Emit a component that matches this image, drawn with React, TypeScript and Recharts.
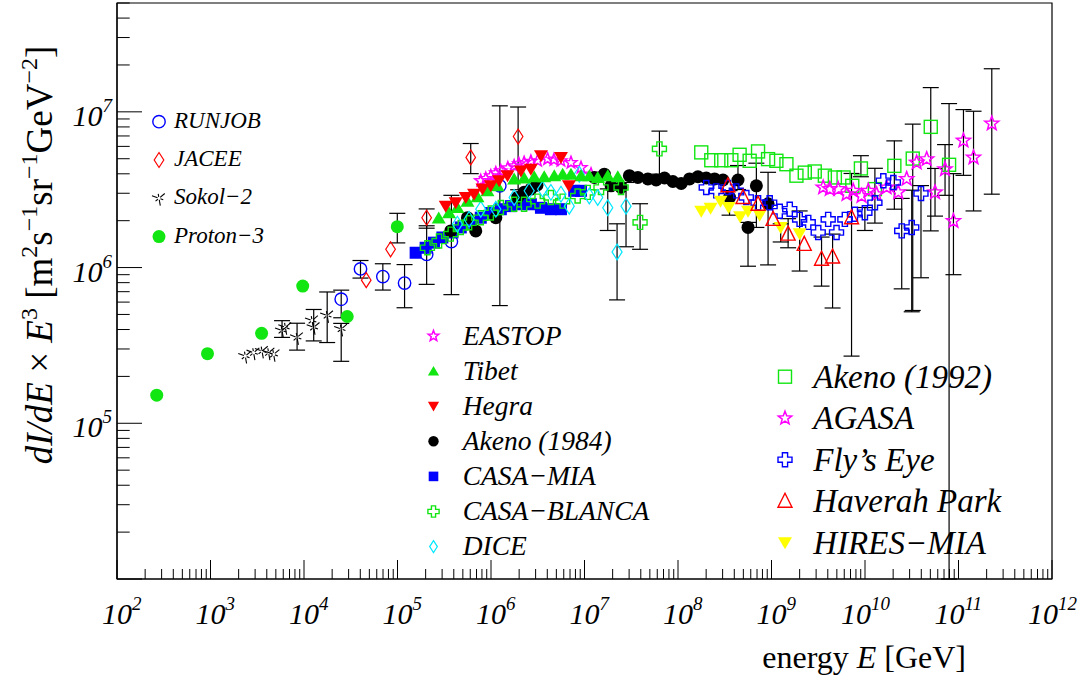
import React from 'react'
import { ScatterChart, Scatter, XAxis, YAxis, ErrorBar, ReferenceArea } from 'recharts'

// [energy GeV, dI/dE*E^3, errLow?, errHigh?]
type Pt = [number, number, number?, number?]

const runjob: Pt[] = [
  [2.5e4, 6.26e5, 1.5e5, 0.9e5], [4.02e4, 9.8e5, 1.24e5, 1.3e5], [6.97e4, 8.75e5, 1.58e5, 1.83e5],
  [1.19e5, 7.95e5, 2.43e5, 2.5e5], [2.05e5, 1.215e6, 4.35e5, 6.4e5], [3.77e5, 1.47e6, 8.0e5, 1.44e6],
  [1.243e6, 3.35e6, 2.78e6, 7.58e6],
]
const jacee: Pt[] = [
  [4.63e4, 8.3e5], [8.43e4, 1.31e6], [2.05e5, 2.09e6, 0.3e6, 0.29e6],
  [6.07e5, 5.1e6, 1.09e6, 1.16e6], [1.95e6, 6.94e6, 3.78e6, 3.8e6],
]
const sokol2: Pt[] = [
  [2355, 2.7e5], [2890, 2.84e5], [3555, 2.91e5], [4183, 2.84e5], [4735, 2.77e5],
  [5824, 3.94e5, 0.38e5, 0.62e5], [6319, 4.13e5], [8433, 3.56e5, 0.61e5, 0.83e5],
  [1.22e4, 4.57e5], [1.27e4, 4.13e5, 0.75e5, 1.25e5], [1.77e4, 4.92e5, 1.62e5, 2.05e5],
  [2.5e4, 4.03e5, 1.53e5, 0.35e5],
]
const proton3: Pt[] = [
  [266, 1.515e5], [929, 2.8e5], [3520, 3.78e5], [9690, 7.6e5], [2.9e4, 4.85e5],
  [9.95e4, 1.83e6, 0.39e6, 0.4e6],
]
const eastop: Pt[] = [
  [7.77e5, 3.61e6], [8.79e5, 3.73e6], [9.95e5, 3.88e6], [1.126e6, 4.05e6], [1.274e6, 4.17e6],
  [1.514e6, 4.36e6], [1.768e6, 4.49e6], [1.986e6, 4.64e6], [2.26e6, 4.72e6], [2.67e6, 4.81e6],
  [3.15e6, 4.85e6], [4.03e6, 4.97e6], [4.71e6, 4.92e6], [5.6e6, 4.85e6], [7.17e6, 4.72e6],
  [9.17e6, 4.38e6], [1.174e7, 3.98e6],
]
const tibet: Pt[] = [
  [2.76e5, 2.08e6], [3.56e5, 2.25e6], [4.37e5, 2.43e6], [5.6e5, 2.67e6], [7.17e5, 2.85e6],
  [9.17e5, 3.11e6], [1.174e6, 3.35e6], [1.768e6, 3.7e6], [2.26e6, 3.76e6], [2.9e6, 3.83e6],
  [3.71e6, 3.83e6], [4.75e6, 3.89e6], [5.84e6, 3.98e6], [7.17e6, 3.98e6], [9.17e6, 3.89e6],
  [1.126e7, 3.89e6], [1.385e7, 3.79e6], [1.773e7, 3.89e6], [2.27e7, 3.83e6],
]
const hegra: Pt[] = [
  [3.28e5, 2.48e6], [4.19e5, 2.61e6], [5.37e5, 2.82e6], [6.59e5, 2.96e6], [8.11e5, 3.19e6],
  [9.95e5, 3.35e6], [1.221e6, 3.61e6], [1.503e6, 3.89e6], [2.09e6, 4.17e6], [2.67e6, 4.28e6],
  [3.42e6, 5.22e6], [5.6e6, 5.09e6], [6.82e6, 3.35e6],
]
const akeno84: Pt[] = [
  [3.71e5, 1.72e6], [5.6e5, 2.09e6], [6.87e5, 1.72e6], [1.126e6, 2.09e6], [1.923e6, 2.82e6],
  [2.26e6, 3.04e6], [2.67e6, 3.19e6], [3.1e6, 3.38e6], [1.273e7, 3.79e6], [1.63e7, 3.98e6],
  [1.923e7, 3.35e6], [2.46e7, 3.27e6], [3.02e7, 3.89e6], [3.72e7, 3.79e6], [4.76e7, 3.71e6],
  [5.84e7, 3.65e6], [7.17e7, 3.76e6], [8.81e7, 3.57e6], [1.082e8, 3.47e6], [1.328e8, 3.71e6],
  [1.634e8, 3.83e6], [2.005e8, 3.76e6], [2.46e8, 3.71e6], [3.03e8, 3.65e6],
  [3.56e8, 2.82e6, 0.65e6, 0.3e6], [4.38e8, 3.65e6, 0.48e6, 0.87e6], [5.61e8, 1.81e6, 0.79e6, 0.14e6],
  [6.89e8, 3.35e6, 1.54e6, 1.33e6], [9.19e8, 2.57e6, 1.53e6, 1.52e6],
]
const casaMia: Pt[] = [
  [1.563e5, 1.245e6], [2.0e5, 1.34e6], [2.455e5, 1.445e6], [3.02e5, 1.56e6], [3.87e5, 1.68e6],
  [4.75e5, 1.81e6], [6.07e5, 1.94e6], [7.77e5, 2.09e6], [9.95e5, 2.24e6], [1.274e6, 2.37e6],
  [1.63e6, 2.48e6], [2.09e6, 2.55e6], [2.67e6, 2.55e6], [3.42e6, 2.42e6], [4.37e6, 2.37e6],
  [5.6e6, 2.37e6], [7.77e6, 3.11e6], [9.17e6, 3.11e6],
]
const casaBlanca: Pt[] = [
  [2.09e5, 1.34e6], [2.78e5, 1.48e6], [3.71e5, 1.64e6], [4.75e5, 1.81e6], [5.83e5, 1.94e6],
  [7.77e5, 2.09e6], [9.95e5, 2.24e6], [1.274e6, 2.43e6], [1.768e6, 2.55e6], [2.26e6, 2.55e6],
  [3.15e6, 2.67e6], [4.37e6, 2.82e6], [5.84e6, 2.67e6], [8.45e6, 2.88e6], [1.082e7, 3.04e6],
  [1.502e7, 3.27e6], [2.46e7, 3.27e6], [3.93e7, 1.95e6, 0.64e6, 0.62e6], [6.33e7, 5.78e6, 1.8e6, 1.74e6],
]
const dice: Pt[] = [
  [4.37e5, 1.9e6], [5.83e5, 2.04e6], [7.77e5, 2.37e6], [1.126e6, 2.37e6], [1.768e6, 2.82e6],
  [2.56e6, 3.11e6], [3.56e6, 3.19e6], [4.37e6, 3.04e6], [5.6e6, 2.96e6], [6.87e6, 2.48e6],
  [8.79e6, 3.98e6], [1.126e7, 2.88e6], [1.385e7, 2.82e6], [1.773e7, 2.42e6, 0.69e6, 0.78e6],
  [2.23e7, 1.26e6, 0.64e6, 0.65e6], [2.78e7, 2.48e6, 1.12e6, 1.04e6],
]
const akeno92: Pt[] = [
  [1.773e8, 5.49e6], [2.27e8, 4.89e6], [2.9e8, 4.89e6], [3.72e8, 4.89e6], [4.56e8, 5.3e6],
  [5.84e8, 4.85e6], [7.18e8, 5.57e6], [9.19e8, 4.97e6], [1.128e9, 4.85e6], [1.444e9, 4.61e6],
  [1.848e9, 3.89e6], [2.27e9, 4.07e6], [2.9e9, 4.14e6], [3.72e9, 3.89e6], [4.76e9, 3.79e6],
  [5.9e9, 3.79e6], [7.31e9, 3.35e6], [9.04e9, 4.33e6, 0.5e6, 0.9e6], [1.276e10, 3.19e6],
  [2.06e10, 4.5e6, 2.13e6, 2.01e6], [3.24e10, 5.01e6, 4.48e6, 3.33e6],
  [5.05e10, 8.01e6, 6.29e6, 6.3e6], [7.93e10, 4.57e6, 4.56e6, 6.73e6],
]
const agasa: Pt[] = [
  [3.57e9, 3.27e6], [4.2e9, 3.19e6], [5.17e9, 3.19e6], [6.35e9, 2.96e6], [7.49e9, 3.11e6],
  [9.19e9, 2.88e6], [1.085e10, 3.11e6], [1.331e10, 2.96e6], [1.703e10, 3.27e6], [2.27e10, 3.04e6],
  [2.79e10, 3.71e6], [3.57e10, 4.72e6], [4.57e10, 4.97e6], [5.61e10, 3.04e6, 0.9e6, 1.29e6],
  [7.18e10, 4.28e6, 1.37e6, 1.88e6], [8.83e10, 1.99e6, 1.09e6, 2.02e6],
  [1.13e11, 6.54e6, 2.63e6, 3.8e6], [1.448e11, 5.09e6, 2.78e6, 5.0e6], [2.27e11, 8.41e6, 5.45e6, 1.05e7],
]
const flysEye: Pt[] = [
  [2.005e8, 3.27e6], [2.57e8, 3.11e6], [3.42e8, 3.27e6], [4.2e8, 3.11e6], [5.38e8, 2.82e6],
  [7.18e8, 2.61e6], [9.56e8, 2.61e6], [1.224e9, 2.3e6], [1.567e9, 2.37e6], [2.0e9, 2.04e6],
  [2.47e9, 1.95e6], [3.16e9, 1.68e6], [4.04e9, 2.04e6], [4.96e9, 1.68e6], [6.09e9, 2.04e6],
  [7.79e9, 2.2e6], [9.97e9, 2.25e6, 0.52e6, 0.18e6], [1.276e10, 2.61e6, 0.68e6, 1.73e6],
  [1.571e10, 3.61e6], [2.01e10, 3.52e6], [2.47e10, 1.72e6, 0.99e6, 1.06e6],
  [3.16e10, 1.81e6, 1.29e6, 1.33e6], [3.97e10, 2.99e6, 2.13e6, 0.37e6],
]
const haverah: Pt[] = [
  [3.42e8, 3.35e6], [4.96e8, 2.82e6], [7.18e8, 2.55e6], [1.04e9, 2.04e6],
  [1.506e9, 1.64e6, 0.3e6, 0.42e6], [2.24e9, 1.41e6], [3.43e9, 1.13e6, 0.37e6, 0.44e6],
  [4.5e9, 1.17e6, 0.62e6, 0.47e6], [7.18e9, 2.09e6, 1.82e6, 1.93e6],
]
const hiresMia: Pt[] = [
  [1.773e8, 2.3e6], [2.23e8, 2.4e6], [2.85e8, 2.67e6], [3.48e8, 2.43e6], [4.62e8, 2.12e6],
  [5.61e8, 2.3e6], [7.47e8, 2.17e6], [1.254e9, 1.81e6, 0.35e6, 0.1e6], [2.0e9, 1.65e6, 0.7e6, 0.66e6],
]

const xMajor = [1e2, 1e3, 1e4, 1e5, 1e6, 1e7, 1e8, 1e9, 1e10, 1e11, 1e12]
const yMajor = [1e4, 1e5, 1e6, 1e7]
const yLabeled = [1e5, 1e6, 1e7]

const BLUE = '#0000ff'
const RED = '#ff0000'
const GREEN = '#12e612'
const BLACK = '#000000'
const MAGENTA = '#ff00ff'
const CYAN = '#00e8ff'
const YELLOW = '#ffff00'
const FONT = '"Liberation Serif", "Times New Roman", serif'

// minor ticks 2..9 per decade
const minors = (majors: number[], top: number) => {
  const out: number[] = []
  majors.forEach((m) => {
    for (let k = 1; k <= 9; k++) {
      const v = m * k
      if (v <= top) out.push(v)
    }
  })
  return out
}
const xTicks = minors(xMajor, 1e12)
const yTicks = minors(yMajor, 5e7)

const isMajor = (v: number) => {
  const lg = Math.log10(v)
  return Math.abs(lg - Math.round(lg)) < 1e-6
}

const starPts = (cx: number, cy: number, R: number) => {
  const pts: string[] = []
  for (let i = 0; i < 10; i++) {
    const r = i % 2 === 0 ? R : R * 0.42
    const a = -Math.PI / 2 + (i * Math.PI) / 5
    pts.push(`${cx + r * Math.cos(a)},${cy + r * Math.sin(a)}`)
  }
  return pts.join(' ')
}

const drawMarker = (kind: string, color: string, cx: number, cy: number, s = 1) => {
  const sw = 1.4
  switch (kind) {
    case 'ocircle':
      return <circle cx={cx} cy={cy} r={6.2 * s} fill="none" stroke={color} strokeWidth={sw} />
    case 'fcircle':
      return <circle cx={cx} cy={cy} r={6.5 * s} fill={color} />
    case 'diamond':
      return (
        <polygon
          points={`${cx},${cy - 7.5 * s} ${cx + 4.8 * s},${cy} ${cx},${cy + 7.5 * s} ${cx - 4.8 * s},${cy}`}
          fill="none" stroke={color} strokeWidth={1.2} />
      )
    case 'star':
      return <polygon points={starPts(cx, cy, 7 * s)} fill="none" stroke={color} strokeWidth={1.5} />
    case 'tup':
      return <polygon points={`${cx},${cy - 6.5 * s} ${cx + 7 * s},${cy + 5.5 * s} ${cx - 7 * s},${cy + 5.5 * s}`} fill={color} />
    case 'tdown':
      return <polygon points={`${cx - 7 * s},${cy - 5.5 * s} ${cx + 7 * s},${cy - 5.5 * s} ${cx},${cy + 6.5 * s}`} fill={color} />
    case 'fsquare':
      return <rect x={cx - 6 * s} y={cy - 6 * s} width={12 * s} height={12 * s} fill={color} />
    case 'osquare':
      return <rect x={cx - 6.5 * s} y={cy - 6.5 * s} width={13 * s} height={13 * s} fill="none" stroke={color} strokeWidth={sw} />
    case 'otri':
      return <polygon points={`${cx},${cy - 8 * s} ${cx + 7 * s},${cy + 6 * s} ${cx - 7 * s},${cy + 6 * s}`} fill="none" stroke={color} strokeWidth={sw} />
    case 'ocross': {
      const a = 7 * s
      const w = 2.6 * s
      const p = [[-w, -a], [w, -a], [w, -w], [a, -w], [a, w], [w, w], [w, a], [-w, a], [-w, w], [-a, w], [-a, -w], [-w, -w]]
      return <polygon points={p.map(([dx, dy]) => `${cx + dx},${cy + dy}`).join(' ')} fill="none" stroke={color} strokeWidth={sw} />
    }
    case 'sokol': {
      const r = 7.5 * s
      const g = 1.5 * s
      return (
        <g stroke={color} strokeWidth={1.1}>
          {[200, 80, 320, 20, 140, 260].map((deg, i) => {
            const a = (deg * Math.PI) / 180
            const rr = i < 3 ? r : r * 0.6
            return <line key={i} x1={cx + g * Math.cos(a)} y1={cy + g * Math.sin(a)} x2={cx + rr * Math.cos(a)} y2={cy + rr * Math.sin(a)} />
          })}
        </g>
      )
    }
    default:
      return <g />
  }
}

const shapeOf = (kind: string, color: string, s = 1) => (p: any) => (
  <g>{drawMarker(kind, color, p.cx, p.cy, s)}</g>
)

const rows = (pts: Pt[]) =>
  pts.map(([x, y, lo, hi]) => ({ x, y, err: lo != null ? [lo, hi] : undefined }))

const series = [
  { name: 'Proton-3', data: proton3, kind: 'fcircle', color: GREEN, s: 1 },
  { name: 'Sokol-2', data: sokol2, kind: 'sokol', color: BLACK, s: 1 },
  { name: 'RUNJOB', data: runjob, kind: 'ocircle', color: BLUE, s: 1 },
  { name: 'JACEE', data: jacee, kind: 'diamond', color: RED, s: 1 },
  { name: 'EASTOP', data: eastop, kind: 'star', color: MAGENTA, s: 0.9 },
  { name: 'CASA-MIA', data: casaMia, kind: 'fsquare', color: BLUE, s: 1 },
  { name: 'Akeno84', data: akeno84, kind: 'fcircle', color: BLACK, s: 1 },
  { name: 'CASA-BLANCA', data: casaBlanca, kind: 'ocross', color: GREEN, s: 1 },
  { name: 'DICE', data: dice, kind: 'diamond', color: CYAN, s: 1.05 },
  { name: 'Tibet', data: tibet, kind: 'tup', color: GREEN, s: 1 },
  { name: 'Hegra', data: hegra, kind: 'tdown', color: RED, s: 1 },
  { name: 'Akeno92', data: akeno92, kind: 'osquare', color: GREEN, s: 1 },
  { name: 'AGASA', data: agasa, kind: 'star', color: MAGENTA, s: 1.05 },
  { name: 'FlysEye', data: flysEye, kind: 'ocross', color: BLUE, s: 1 },
  { name: 'HIRES', data: hiresMia, kind: 'tdown', color: YELLOW, s: 1 },
  { name: 'Haverah', data: haverah, kind: 'otri', color: RED, s: 1 },
]

const XTick = (props: any) => {
  const { x, y, payload } = props
  const v = payload.value
  const major = isMajor(v)
  const n = Math.round(Math.log10(v))
  // two-digit exponents push the label a bit to the left
  const cx = n >= 10 ? x - 9 : x
  return (
    <g>
      <line x1={x} x2={x} y1={y} y2={y - (major ? 19 : 10)} stroke="#000" strokeWidth={1} />
      {major && (
        <g fontFamily={FONT} fontStyle="italic" fill="#000">
          <text x={cx} y={y + 45} fontSize={30} textAnchor="middle">10</text>
          <text x={cx + 15} y={y + 31} fontSize={19} textAnchor="start">{n}</text>
        </g>
      )}
    </g>
  )
}

const YTick = (props: any) => {
  const { x, y, payload } = props
  const v = payload.value
  const major = isMajor(v)
  const labeled = yLabeled.some((t) => Math.abs(t - v) / t < 1e-6)
  return (
    <g>
      <line x1={x} x2={x + (major ? 25 : 12.7)} y1={y} y2={y} stroke="#000" strokeWidth={1} />
      {labeled && (
        <text x={x - 5} y={y + 14} fontFamily={FONT} fontStyle="italic" fontSize={30} textAnchor="end" fill="#000">
          10<tspan dy={-14} fontSize={19}>{Math.round(Math.log10(v))}</tspan>
        </text>
      )}
    </g>
  )
}

const leftLegend = [
  { label: 'RUNJOB', kind: 'ocircle', color: BLUE },
  { label: 'JACEE', kind: 'diamond', color: RED },
  { label: 'Sokol\u22122', kind: 'sokol', color: BLACK },
  { label: 'Proton\u22123', kind: 'fcircle', color: GREEN },
]
const midLegend = [
  { label: 'EASTOP', kind: 'star', color: MAGENTA },
  { label: 'Tibet', kind: 'tup', color: GREEN },
  { label: 'Hegra', kind: 'tdown', color: RED },
  { label: 'Akeno (1984)', kind: 'fcircle', color: BLACK },
  { label: 'CASA\u2212MIA', kind: 'fsquare', color: BLUE },
  { label: 'CASA\u2212BLANCA', kind: 'ocross', color: GREEN },
  { label: 'DICE', kind: 'diamond', color: CYAN },
]
const rightLegend = [
  { label: 'Akeno (1992)', kind: 'osquare', color: GREEN },
  { label: 'AGASA', kind: 'star', color: MAGENTA },
  { label: 'Fly\u2019s Eye', kind: 'ocross', color: BLUE },
  { label: 'Haverah Park', kind: 'otri', color: RED },
  { label: 'HIRES\u2212MIA', kind: 'tdown', color: YELLOW },
]

const LegendBlock = ({ items, mx, tx, y0, dy, fs, s, base }: any) => (
  <g>
    {items.map((it: any, i: number) => {
      const cy = y0 + i * dy
      return (
        <g key={it.label}>
          {drawMarker(it.kind, it.color, mx, cy, s)}
          <text x={tx} y={cy + base} fontFamily={FONT} fontStyle="italic" fontSize={fs} fill="#000">{it.label}</text>
        </g>
      )
    })}
  </g>
)

const App = () => {
  return (
    <div style={{ position: 'absolute', left: 0, top: 0, width: 1080, height: 682, background: '#fff' }}>
      <ScatterChart width={1080} height={682} margin={{ top: 3, right: 28, bottom: 43, left: 57 }}>
        <XAxis
          dataKey="x" type="number" scale="log" domain={[1e2, 1e12]} allowDataOverflow
          ticks={xTicks} interval={0} tick={<XTick />} tickLine={false} tickSize={0} tickMargin={0}
          height={60} axisLine={{ stroke: '#000', strokeWidth: 1.2 }}
        />
        <YAxis
          dataKey="y" type="number" scale="log" domain={[1e4, 5e7]} allowDataOverflow
          ticks={yTicks} interval={0} tick={<YTick />} tickLine={false} tickSize={0} tickMargin={0}
          width={60} axisLine={{ stroke: '#000', strokeWidth: 1.2 }}
        />
        <ReferenceArea x1={1e2} x2={1e12} y1={1e4} y2={5e7} fill="none" stroke="#000" strokeWidth={1.2} ifOverflow="visible" />
        {series.map((sr) => (
          <Scatter key={sr.name} name={sr.name} data={rows(sr.data)} isAnimationActive={false} shape={shapeOf(sr.kind, sr.color, sr.s)}>
            <ErrorBar dataKey="err" direction="y" width={8} stroke="#000" strokeWidth={1.2} isAnimationActive={false} />
          </Scatter>
        ))}
      </ScatterChart>
      <svg width={1080} height={682} style={{ position: 'absolute', left: 0, top: 0, pointerEvents: 'none' }}>
        <LegendBlock items={leftLegend} mx={159} tx={174} y0={121.7} dy={38.3} fs={23} s={1} base={6} />
        <LegendBlock items={midLegend} mx={433.5} tx={462.7} y0={336} dy={35.1} fs={27.5} s={0.8} base={8.5} />
        <LegendBlock items={rightLegend} mx={785} tx={813.3} y0={376.7} dy={41.5} fs={33} s={1} base={11} />
        <text x={966} y={668} textAnchor="end" fontFamily={FONT} fontSize={32} fill="#000">
          energy <tspan fontStyle="italic">E</tspan> [GeV]
        </text>
        <text transform="rotate(-90)" x={-255} y={52} textAnchor="middle" fontFamily={FONT} fontSize={37} fill="#000">
          <tspan fontStyle="italic">dI/dE</tspan> × <tspan fontStyle="italic">E</tspan>
          <tspan dy={-15} fontSize={24}>3</tspan>
          <tspan dy={15}> [m</tspan>
          <tspan dy={-15} fontSize={24}>2</tspan>
          <tspan dy={15}>s</tspan>
          <tspan dy={-15} fontSize={24}>{'\u22121'}</tspan>
          <tspan dy={15}>sr</tspan>
          <tspan dy={-15} fontSize={24}>{'\u22121'}</tspan>
          <tspan dy={15}>GeV</tspan>
          <tspan dy={-15} fontSize={24}>{'\u22122'}</tspan>
          <tspan dy={15}>]</tspan>
        </text>
      </svg>
    </div>
  )
}

export default App
